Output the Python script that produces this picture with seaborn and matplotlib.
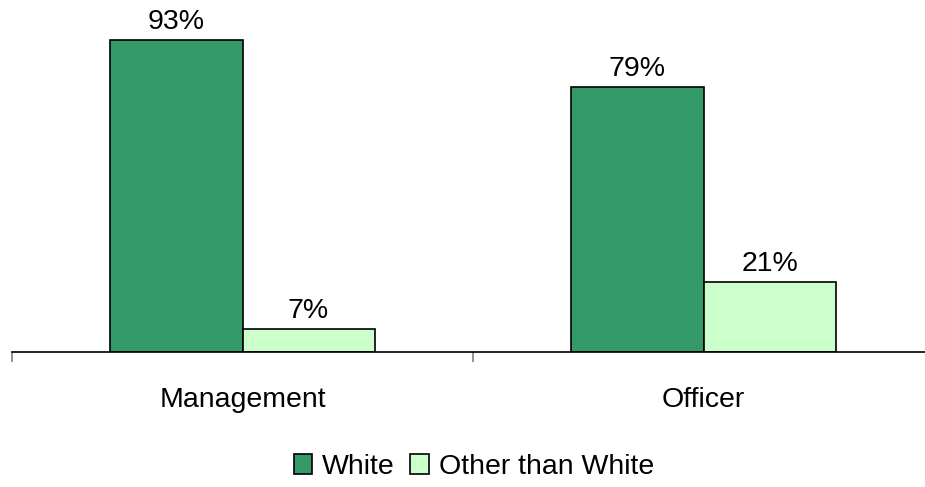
import matplotlib
matplotlib.use("Agg")
import matplotlib.pyplot as plt
from matplotlib.patches import Patch
import seaborn as sns
import pandas as pd

# Share of staff by ethnicity, per job level
categories = ["Management", "Officer"]
groups = ["White", "Other than White"]
white = [93, 79]
other = [7, 21]
colors = ["#339966", "#CCFFCC"]

df = pd.DataFrame({
    "level": categories * 2,
    "group": [groups[0]] * len(categories) + [groups[1]] * len(categories),
    "pct": white + other,
})

sns.set_theme(style="white")
plt.rcParams["font.family"] = ["Liberation Sans", "DejaVu Sans"]
FS = 20.5

W, H = 925, 487
fig = plt.figure(figsize=(W / 100, H / 100), dpi=100)
ax = fig.add_axes([12 / W, (H - 352) / H, 922 / W, 352 / H])

sns.barplot(data=df, x="level", y="pct", hue="group", order=categories,
            hue_order=groups, palette=colors, width=0.573, gap=0,
            edgecolor="black", linewidth=1.2, saturation=1, ax=ax, legend=False)

for cont in ax.containers:
    vals = [int(round(b.get_height())) for b in cont]
    ax.bar_label(cont, labels=[f"{v}%" for v in vals], padding=3.5,
                 fontsize=FS, color="black")

ax.set_xlim(-0.5, 1.5)
ax.set_ylim(0, 105)
ax.set_xlabel("")
ax.set_ylabel("")
ax.set_yticks([])
for s in ["top", "left", "right"]:
    ax.spines[s].set_visible(False)
ax.spines["bottom"].set_color("black")
ax.spines["bottom"].set_linewidth(1.2)

ax.set_xticks([-0.5, 0.5, 1.5], minor=True)
ax.tick_params(axis="x", which="minor", length=7, width=1.2, color="#808080",
               bottom=True, direction="out")
ax.tick_params(axis="x", which="major", length=0, pad=25, labelsize=FS,
               labelcolor="black")

handles = [Patch(facecolor=c, edgecolor="black", linewidth=1.2) for c in colors]
leg = fig.legend(handles, groups, loc="center",
                 bbox_to_anchor=(474 / W, 1 - 467 / H),
                 ncol=2, frameon=False, fontsize=FS, handlelength=0.65,
                 handleheight=0.65, handletextpad=0.36, columnspacing=0.54)
for t in leg.get_texts():
    t.set_color("black")

fig.savefig("out.png", dpi=100)
